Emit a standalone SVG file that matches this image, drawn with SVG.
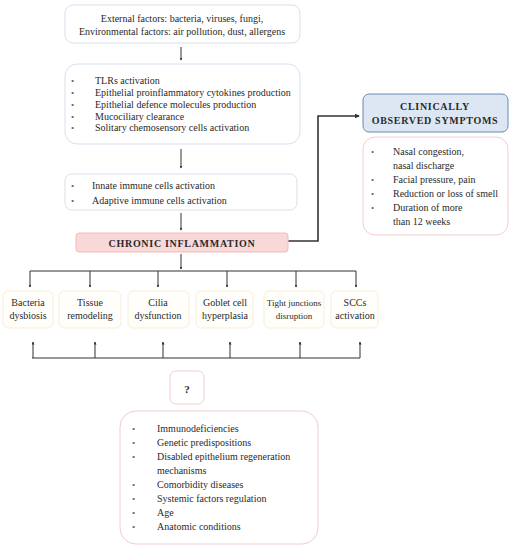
<svg xmlns="http://www.w3.org/2000/svg" width="513" height="550" viewBox="0 0 513 550" font-family="'Liberation Serif', 'Times New Roman', serif">
<style>
text{font-family:"Liberation Serif","Times New Roman",serif;fill:#2a2a2a;font-size:10px}
.c{text-anchor:middle}
.b{font-weight:bold;letter-spacing:0.7px}
.bl{fill:#666;font-size:9px}
.bluebox{fill:#fff;stroke:#d6e1ee;stroke-width:1}
.pinkbox{fill:#fff;stroke:#f3cccc;stroke-width:1}
.ybox{fill:#fffefa;stroke:#f8efd6;stroke-width:1}
.ln{fill:none;stroke:#333;stroke-width:1}
.thick{fill:none;stroke:#333;stroke-width:1.6}
</style>
<defs>
<marker id="ah" viewBox="0 0 6 6" refX="5" refY="3" markerWidth="3" markerHeight="3" orient="auto"><path d="M0,0 L6,3 L0,6 z" fill="#333"/></marker>
</defs>
<g id="connectors">
<line class="ln" x1="181" y1="47" x2="181" y2="60" marker-end="url(#ah)"/>
<line class="ln" x1="181" y1="149" x2="181" y2="168" marker-end="url(#ah)"/>
<line class="ln" x1="181" y1="213" x2="181" y2="230" marker-end="url(#ah)"/>
<line class="ln" x1="181" y1="254" x2="181" y2="269" marker-end="url(#ah)"/>
<polyline class="thick" points="288,241 318,241 318,116 359,116" marker-end="url(#ah)"/>
<line class="ln" x1="30" y1="271" x2="356" y2="271"/>
<line class="ln" x1="30" y1="271" x2="30" y2="287" marker-end="url(#ah)"/>
<line class="ln" x1="90" y1="271" x2="90" y2="287" marker-end="url(#ah)"/>
<line class="ln" x1="158" y1="271" x2="158" y2="287" marker-end="url(#ah)"/>
<line class="ln" x1="227" y1="271" x2="227" y2="287" marker-end="url(#ah)"/>
<line class="ln" x1="296" y1="271" x2="296" y2="287" marker-end="url(#ah)"/>
<line class="ln" x1="356" y1="271" x2="356" y2="287" marker-end="url(#ah)"/>
<line class="ln" x1="32" y1="358" x2="360" y2="358"/>
<line class="ln" x1="33" y1="358" x2="33" y2="342" marker-end="url(#ah)"/>
<line class="ln" x1="95" y1="358" x2="95" y2="342" marker-end="url(#ah)"/>
<line class="ln" x1="163" y1="358" x2="163" y2="342" marker-end="url(#ah)"/>
<line class="ln" x1="230" y1="358" x2="230" y2="342" marker-end="url(#ah)"/>
<line class="ln" x1="300" y1="358" x2="300" y2="342" marker-end="url(#ah)"/>
<line class="ln" x1="360" y1="358" x2="360" y2="342" marker-end="url(#ah)"/>
</g>
<g id="external">
<rect class="bluebox" x="65" y="5" width="235" height="38" rx="8"/>
<text class="c" x="182" y="22">External factors: bacteria, viruses, fungi,</text>
<text class="c" x="182" y="35">Environmental factors: air pollution, dust, allergens</text>
</g>
<g id="epithelial">
<rect class="bluebox" x="65" y="64" width="235" height="80" rx="12"/>
<text class="bl" x="71" y="84">•</text><text x="95" y="84">TLRs activation</text>
<text class="bl" x="71" y="96">•</text><text x="95" y="96">Epithelial proinflammatory cytokines production</text>
<text class="bl" x="71" y="108">•</text><text x="95" y="108">Epithelial defence molecules production</text>
<text class="bl" x="71" y="120">•</text><text x="95" y="120">Mucociliary clearance</text>
<text class="bl" x="71" y="131">•</text><text x="95" y="131">Solitary chemosensory cells activation</text>
</g>
<g id="immune">
<rect class="bluebox" x="65" y="174" width="232" height="36" rx="7"/>
<text class="bl" x="71" y="189">•</text><text x="92" y="189">Innate immune cells activation</text>
<text class="bl" x="71" y="204">•</text><text x="92" y="204">Adaptive immune cells activation</text>
</g>
<g id="chronic">
<rect x="76" y="233" width="212" height="19" rx="3" fill="#f9d8d8" stroke="#f1bcbc"/>
<text class="c b" x="182" y="246.5">CHRONIC INFLAMMATION</text>
</g>
<g id="clinical">
<rect x="363" y="94" width="145" height="38" rx="6" fill="#dce7f3" stroke="#6a8bb3" stroke-width="1"/>
<text class="c b" x="435" y="110">CLINICALLY</text>
<text class="c b" x="435" y="124">OBSERVED SYMPTOMS</text>
</g>
<g id="symptoms">
<rect class="pinkbox" x="363" y="137" width="145" height="98" rx="12" fill="#fffafa"/>
<text class="bl" x="371" y="155">•</text><text x="393" y="155">Nasal congestion,</text>
<text x="393" y="169">nasal discharge</text>
<text class="bl" x="371" y="183">•</text><text x="393" y="183">Facial pressure, pain</text>
<text class="bl" x="371" y="197">•</text><text x="393" y="197">Reduction or loss of smell</text>
<text class="bl" x="371" y="211">•</text><text x="393" y="211">Duration of more</text>
<text x="393" y="225">than 12 weeks</text>
</g>
<g id="bacteria">
<rect class="ybox" x="3" y="291" width="50" height="37" rx="5"/>
<text class="c" x="28" y="306">Bacteria</text><text class="c" x="28" y="319">dysbiosis</text>
</g>
<g id="tissue">
<rect class="ybox" x="59" y="291" width="62" height="37" rx="5"/>
<text class="c" x="90" y="306">Tissue</text><text class="c" x="90" y="319">remodeling</text>
</g>
<g id="cilia">
<rect class="ybox" x="128" y="291" width="61" height="37" rx="5"/>
<text class="c" x="158" y="306">Cilia</text><text class="c" x="158" y="319">dysfunction</text>
</g>
<g id="goblet">
<rect class="ybox" x="196" y="291" width="57" height="37" rx="5"/>
<text class="c" x="225" y="306">Goblet cell</text><text class="c" x="225" y="319">hyperplasia</text>
</g>
<g id="tight">
<rect class="ybox" x="264" y="291" width="60" height="37" rx="5"/>
<text class="c" x="294" y="306" style="font-size:9px">Tight junctions</text><text class="c" x="294" y="319" style="font-size:9px">disruption</text>
</g>
<g id="sccs">
<rect class="ybox" x="331" y="291" width="47" height="37" rx="5"/>
<text class="c" x="355" y="306">SCCs</text><text class="c" x="355" y="319">activation</text>
</g>
<g id="question">
<rect class="pinkbox" x="170" y="371" width="34" height="33" rx="6"/>
<text class="c" x="187" y="393" style="font-weight:bold;font-size:11px">?</text>
</g>
<g id="factors">
<rect class="pinkbox" x="120" y="411" width="198" height="133" rx="16"/>
<text class="bl" x="132" y="432">•</text><text x="157" y="432">Immunodeficiencies</text>
<text class="bl" x="132" y="446">•</text><text x="157" y="446">Genetic predispositions</text>
<text class="bl" x="132" y="460">•</text><text x="157" y="460">Disabled epithelium regeneration</text>
<text x="157" y="474">mechanisms</text>
<text class="bl" x="132" y="488">•</text><text x="157" y="488">Comorbidity diseases</text>
<text class="bl" x="132" y="502">•</text><text x="157" y="502">Systemic factors regulation</text>
<text class="bl" x="132" y="516">•</text><text x="157" y="516">Age</text>
<text class="bl" x="132" y="530">•</text><text x="157" y="530">Anatomic conditions</text>
</g>
</svg>
